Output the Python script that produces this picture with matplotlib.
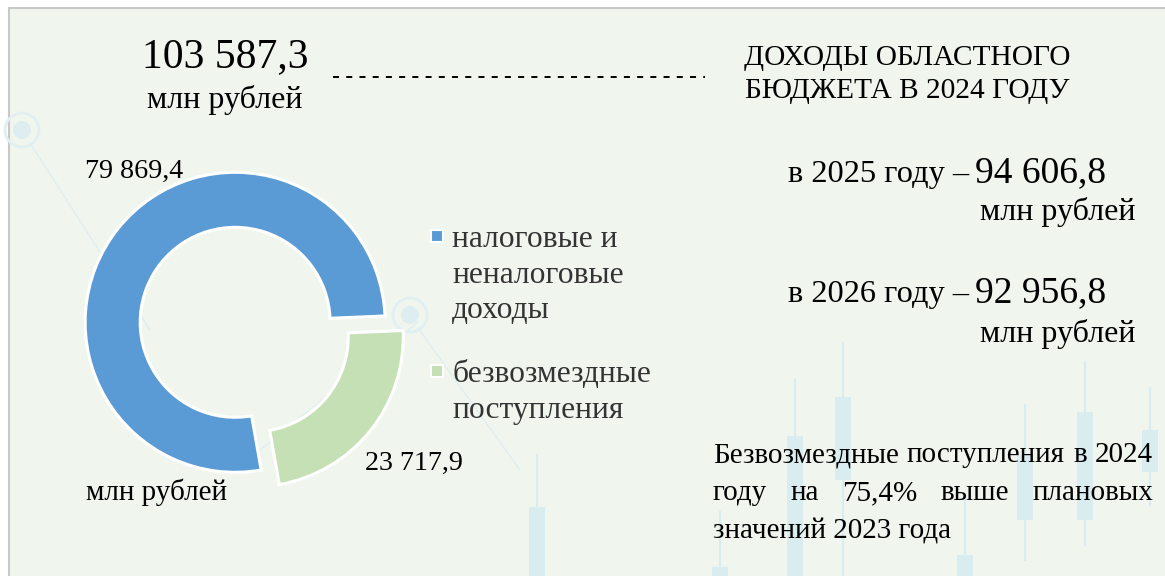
import matplotlib
matplotlib.use('Agg')
import matplotlib.pyplot as plt
from matplotlib.patches import Rectangle, Circle

plt.rcParams['font.family'] = ['Liberation Serif', 'DejaVu Serif']

# --- data ---
total_2024 = '103 587,3'
unit = 'млн рублей'
title_lines = ['ДОХОДЫ ОБЛАСТНОГО', 'БЮДЖЕТА В 2024 ГОДУ']
categories = [['налоговые и', 'неналоговые', 'доходы'], ['безвозмездные', 'поступления']]
values = [79869.4, 23717.9]
value_labels = ['79 869,4', '23 717,9']
colors = ['#5B9BD5', '#C5E0B4']
forecast_years = ['2025', '2026']
forecast_values = ['94 606,8', '92 956,8']
note_lines = ['Безвозмездные поступления в 2024',
              'году на 75,4% выше плановых',
              'значений 2023 года']

# decorative candles in the background (x, body top, body bottom, wick top, wick bottom)
candle_x = [537, 720, 795, 843, 965, 1025, 1085, 1150]
candle_body_top = [507, 567, 436, 397, 555, 455, 412, 430]
candle_body_bot = [590, 590, 590, 480, 590, 520, 520, 472]
candle_wick_top = [455, 512, 380, 343, 500, 405, 362, 388]
candle_wick_bot = [590, 590, 590, 575, 590, 560, 545, 505]

W, H = 1165, 576
fig = plt.figure(figsize=(W / 100, H / 100), dpi=100)
fig.patch.set_facecolor('white')
ax = fig.add_axes([0, 0, 1, 1])
ax.set_xlim(0, W)
ax.set_ylim(H, 0)
ax.axis('off')

# panel
ax.add_patch(Rectangle((9, 8), W, H, facecolor='#F0F6EE', edgecolor='#C8C8C8', lw=1.5, zorder=0))

# faint decorations
deco = '#D9ECF0'
for x, bt, bb, wt, wb in zip(candle_x, candle_body_top, candle_body_bot, candle_wick_top, candle_wick_bot):
    ax.plot([x, x], [wt, wb], color=deco, lw=1.5, zorder=1)
    ax.add_patch(Rectangle((x - 8, bt), 16, bb - bt, facecolor=deco, edgecolor='none', zorder=1))
for cx, cy in [(22, 130), (410, 315)]:
    ax.add_patch(Circle((cx, cy), 17, facecolor='none', edgecolor='#E2EFF1', lw=2, zorder=1))
    ax.add_patch(Circle((cx, cy), 9, facecolor='#DDEDF0', edgecolor='none', zorder=1))
ax.plot([30, 150], [143, 330], color='#E0EEF0', lw=1, zorder=1)
ax.plot([418, 520], [328, 470], color='#E0EEF0', lw=1, zorder=1)
ax.plot([260, 418], [450, 322], color='#E0EEF0', lw=1, zorder=1)

# donut
cx, cy, R = 241, 327, 150
S = 200
pax = fig.add_axes([(cx - S) / W, (H - cy - S) / H, 2 * S / W, 2 * S / H])
pax.pie(values, colors=colors, startangle=-80, counterclock=False,
        explode=[0.05, 0.105], radius=1,
        wedgeprops=dict(width=0.367, edgecolor='white', linewidth=2.2))
pax.set_xlim(-S / R, S / R)
pax.set_ylim(-S / R, S / R)
pax.set_aspect('equal')

# labels around the donut
ax.text(85, 178, value_labels[0], fontsize=20.2, ha='left', va='baseline')
ax.text(365, 470, value_labels[1], fontsize=20.2, ha='left', va='baseline')
ax.text(86, 500, unit, fontsize=21, ha='left', va='baseline')

# total
ax.text(225, 67, total_2024, fontsize=30, ha='center', va='baseline')
ax.text(225, 108, unit, fontsize=23, ha='center', va='baseline')
ax.plot([333, 705], [77, 77], color='black', lw=1.4, dashes=(3.1, 3.7))

# title
ax.text(907, 65, title_lines[0], fontsize=21.2, ha='center', va='baseline')
ax.text(907, 98, title_lines[1], fontsize=21.2, ha='center', va='baseline')

# legend
leg_y = [[247, 283, 318], [382, 418]]
sq_y = [236, 371]
for lines, ys, sy, c in zip(categories, leg_y, sq_y, colors):
    ax.add_patch(Rectangle((431, sy - 6), 12, 12, facecolor=c, edgecolor='white', lw=1.5, zorder=3))
    for line, y in zip(lines, ys):
        ax.text(452, y, line, fontsize=22.7, color='#333333', ha='left', va='baseline')

# forecasts
for yr, val, yb, yu in zip(forecast_years, forecast_values, [182, 302], [220, 342]):
    ax.text(969, yb, 'в %s году –' % yr, fontsize=23.3, ha='right', va='baseline')
    ax.text(975, yb, val, fontsize=27, ha='left', va='baseline')
    ax.text(1135, yu, unit, fontsize=23, ha='right', va='baseline')

# justified note
r = fig.canvas.get_renderer()
x0, x1 = 713, 1153
for i, (line, y) in enumerate(zip(note_lines, [462, 500, 538])):
    words = line.split()
    if i == len(note_lines) - 1:
        ax.text(x0, y, line, fontsize=21, ha='left', va='baseline')
        continue
    ts = [ax.text(0, y, w, fontsize=21, ha='left', va='baseline') for w in words]
    widths = [t.get_window_extent(renderer=r).width for t in ts]
    gap = (x1 - x0 - sum(widths)) / (len(words) - 1)
    x = x0
    for t, w in zip(ts, widths):
        t.set_x(x)
        x += w + gap

fig.savefig('out.png', dpi=100, facecolor=fig.get_facecolor())
